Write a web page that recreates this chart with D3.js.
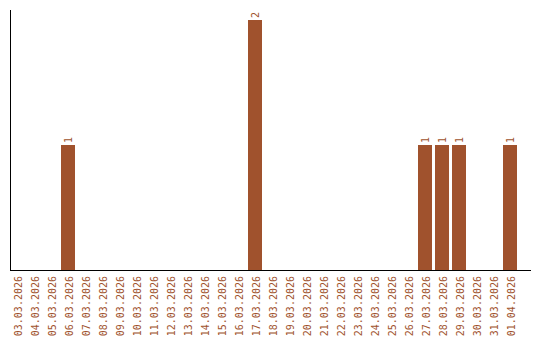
<!DOCTYPE html>
<html><head><meta charset="utf-8">
<script src="https://cdn.jsdelivr.net/npm/d3@7"></script>
<style>body{margin:0;background:#fff}svg{display:block}</style>
</head><body>
<script>
const dates = ["03.03.2026","04.03.2026","05.03.2026","06.03.2026","07.03.2026","08.03.2026","09.03.2026","10.03.2026","11.03.2026","12.03.2026","13.03.2026","14.03.2026","15.03.2026","16.03.2026","17.03.2026","18.03.2026","19.03.2026","20.03.2026","21.03.2026","22.03.2026","23.03.2026","24.03.2026","25.03.2026","26.03.2026","27.03.2026","28.03.2026","29.03.2026","30.03.2026","31.03.2026","01.04.2026"];
const values = [0,0,0,1,0,0,0,0,0,0,0,0,0,0,2,0,0,0,0,0,0,0,0,0,1,1,1,0,0,1];
const color = "#a0522d";

const W = 540, H = 340;
const svg = d3.select("body").append("svg").attr("width", W).attr("height", H);
const x = d3.scaleBand().domain(dates).range([10, 517]).paddingInner(3/17).paddingOuter(0);
const y = d3.scaleLinear().domain([0, 2]).range([270, 20]);

svg.append("line").attr("x1", 10.5).attr("x2", 10.5).attr("y1", 10).attr("y2", 270).attr("stroke", "#000");
svg.append("line").attr("x1", 10).attr("x2", 531).attr("y1", 270.5).attr("y2", 270.5).attr("stroke", "#000");

const data = dates.map((d, i) => ({d, v: values[i]}));
svg.selectAll("rect.bar").data(data.filter(e => e.v > 0)).enter().append("rect")
  .attr("x", e => x(e.d)).attr("width", x.bandwidth())
  .attr("y", e => y(e.v)).attr("height", e => y(0) - y(e.v))
  .attr("fill", color);

svg.selectAll("text.val").data(data.filter(e => e.v > 0)).enter().append("text")
  .attr("transform", e => `translate(${x(e.d) + x.bandwidth()/2},${y(e.v) - 2}) rotate(-90)`)
  .attr("dy", "0.38em").attr("text-anchor", "start")
  .attr("font-family", "DejaVu Sans Mono").attr("font-size", 10).attr("fill", color)
  .text(e => e.v);

svg.selectAll("text.lab").data(dates).enter().append("text")
  .attr("transform", d => `translate(${x(d) + x.bandwidth()/2},276) rotate(-90)`)
  .attr("dy", "0.45em").attr("text-anchor", "end")
  .attr("font-family", "DejaVu Sans Mono").attr("font-size", 10).attr("fill", color)
  .text(d => d);
</script>
</body></html>
